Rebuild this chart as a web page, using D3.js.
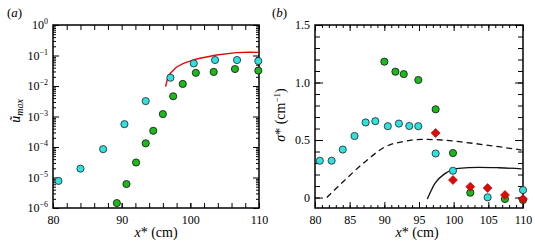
<!DOCTYPE html>
<html>
<head>
<meta charset="utf-8">
<script src="https://cdn.jsdelivr.net/npm/d3@7"></script>
<style>
  body { margin: 0; background: #fff; }
  svg, svg text { font-family: "Liberation Serif", "Times New Roman", Times, serif; }
  .domain { display: none; }
  .tick line { stroke: #000; stroke-width: 1; }
  .tick text { font-size: 12px; fill: #000; }
</style>
</head>
<body>
<div id="chart"></div>
<script>
// panel (a): u_max vs x*
const cyanXA = [80.8, 84.0, 87.3, 90.4, 93.5, 97.1, 100.5, 103.6, 106.8, 109.9];
const cyanYA = [7.7e-6, 1.95e-5, 8.5e-5, 5.6e-4, 3.2e-3, 1.87e-2, 5.5e-2, 7.1e-2, 7.1e-2, 6.6e-2];
const greenXA = [89.3, 90.7, 92.1, 93.5, 94.6, 96.0, 97.5, 98.9, 100.8, 103.4, 106.5, 109.9];
const greenYA = [1.45e-6, 6.1e-6, 3.1e-5, 1.32e-4, 3.4e-4, 1.2e-3, 4.6e-3, 1.17e-2, 2.7e-2, 2.9e-2, 3.6e-2, 3.2e-2];
const redLineXA = [96.4, 96.75, 97.1, 98.0, 99.0, 100.9, 103.8, 106.7, 108.5, 110];
const redLineYA = [0.0095, 0.021, 0.026, 0.042, 0.055, 0.077, 0.104, 0.124, 0.128, 0.127];
const xTicksA = [80, 90, 100, 110];
const yDecadesA = [-6, -5, -4, -3, -2, -1, 0];

// panel (b): sigma* vs x*
const cyanXB = [80.7, 82.4, 84.0, 85.7, 87.3, 88.7, 90.5, 92.1, 93.6, 94.9, 97.4, 99.9, 104.9, 110];
const cyanYB = [0.32, 0.32, 0.417, 0.535, 0.653, 0.664, 0.62, 0.643, 0.622, 0.62, 0.383, 0.233, 0.002, 0.065];
const greenXB = [90.0, 91.6, 92.8, 94.9, 97.4, 99.9, 102.4, 107.4, 110];
const greenYB = [1.181, 1.094, 1.073, 1.022, 0.767, 0.387, 0.042, -0.013, -0.022];
const redXB = [97.4, 99.9, 102.4, 104.9, 107.4, 110];
const redYB = [0.561, 0.152, 0.094, 0.083, 0.022, -0.013];
const dashXB = [81.7, 84.1, 87.2, 90.1, 93.0, 95.4, 98.3, 101.6, 105.5, 109.8];
const dashYB = [0.0, 0.14, 0.31, 0.44, 0.49, 0.506, 0.5, 0.48, 0.45, 0.413];
const solidXB = [96.2, 97.3, 98.8, 100.7, 103.6, 106.5, 109.8];
const solidYB = [-0.013, 0.123, 0.21, 0.254, 0.263, 0.259, 0.25];
const xTicksB = [80, 85, 90, 95, 100, 105, 110];
const yTicksB = [0, 0.5, 1.0, 1.5];

const cyan = '#2ee0e0', green = '#1cb81c', red = '#dd0a0a';
const serif = '"Liberation Serif", "Times New Roman", Times, serif';

const svg = d3.select('#chart').append('svg').attr('width', 535).attr('height', 250);

const plotTop = 25, plotBottom = 208;

// ---------- panel (a) ----------
const xA = d3.scaleLinear().domain([80, 110]).range([53, 259]);
const yA = d3.scaleLog().domain([1e-6, 1]).range([plotBottom, plotTop]);

const gA = svg.append('g');
const minorA = [];
yDecadesA.slice(0, -1).forEach(e => { for (let k = 2; k <= 9; k++) minorA.push(k * Math.pow(10, e)); });
const majorA = yDecadesA.map(e => Math.pow(10, e));
const xMinorA = d3.range(80, 110.01, 2);

gA.append('g').attr('transform', `translate(0,${plotBottom})`)
  .call(d3.axisBottom(xA).tickValues(xMinorA).tickSize(-5).tickFormat(''));
gA.append('g').attr('transform', `translate(0,${plotTop})`)
  .call(d3.axisTop(xA).tickValues(xMinorA).tickSize(-5).tickFormat(''));
gA.append('g').attr('transform', `translate(0,${plotBottom})`)
  .call(d3.axisBottom(xA).tickValues(xTicksA).tickSize(-5).tickPadding(7).tickFormat(d3.format('d')));

[[53, d3.axisLeft], [259, d3.axisRight]].forEach(([x, ax]) => {
  gA.append('g').attr('transform', `translate(${x},0)`)
    .call(ax(yA).tickValues(minorA).tickSize(-3).tickFormat(''));
  gA.append('g').attr('transform', `translate(${x},0)`)
    .call(ax(yA).tickValues(majorA).tickSize(-6).tickFormat(''));
});

// log tick labels with superscripts
gA.selectAll('text.ylab').data(yDecadesA).join('text')
  .attr('class', 'ylab')
  .attr('x', 48).attr('y', d => yA(Math.pow(10, d)) + 4)
  .attr('text-anchor', 'end').attr('font-size', 12)
  .each(function (d) {
    const t = d3.select(this);
    t.append('tspan').text('10');
    t.append('tspan').attr('dy', -5).attr('font-size', 8).text(d === 0 ? '0' : '\u2212' + (-d));
  });

gA.append('rect').attr('x', 53).attr('y', plotTop).attr('width', 206).attr('height', plotBottom - plotTop)
  .attr('fill', 'none').attr('stroke', '#000').attr('stroke-width', 1.5);

gA.append('path')
  .datum(redLineXA.map((x, i) => [x, redLineYA[i]]))
  .attr('d', d3.line().x(d => xA(d[0])).y(d => yA(d[1])))
  .attr('fill', 'none').attr('stroke', red).attr('stroke-width', 1.4);

gA.selectAll('circle.cy').data(cyanXA.map((x, i) => [x, cyanYA[i]])).join('circle')
  .attr('class', 'cy').attr('cx', d => xA(d[0])).attr('cy', d => yA(d[1])).attr('r', 3.6)
  .attr('fill', cyan).attr('stroke', '#222').attr('stroke-width', 0.8);
gA.selectAll('circle.gr').data(greenXA.map((x, i) => [x, greenYA[i]])).join('circle')
  .attr('class', 'gr').attr('cx', d => xA(d[0])).attr('cy', d => yA(d[1])).attr('r', 3.6)
  .attr('fill', green).attr('stroke', '#111').attr('stroke-width', 0.8);

svg.append('text').attr('x', 7).attr('y', 17).attr('font-size', 13)
  .html('(<tspan font-style="italic">a</tspan>)');

const ylabA = svg.append('text').attr('transform', 'translate(20,111) rotate(-90)')
  .attr('text-anchor', 'middle').attr('font-size', 14).attr('font-style', 'italic');
ylabA.append('tspan').text('\u0169');
ylabA.append('tspan').attr('dy', 3).attr('font-size', 10).text('max');

const xlabA = svg.append('text').attr('x', 156).attr('y', 237).attr('text-anchor', 'middle').attr('font-size', 14);
xlabA.append('tspan').attr('font-style', 'italic').text('x');
xlabA.append('tspan').text('* (cm)');

// ---------- panel (b) ----------
const xB = d3.scaleLinear().domain([80, 110]).range([315, 523]);
const yB = d3.scaleLinear().domain([-0.091, 1.5]).range([plotBottom, plotTop]);
const gB = svg.append('g');
const xMinorB = d3.range(80, 110.01, 1);
const yMinorB = d3.range(0, 1.501, 0.1);

gB.append('g').attr('transform', `translate(0,${plotBottom})`)
  .call(d3.axisBottom(xB).tickValues(xMinorB).tickSize(-3).tickFormat(''));
gB.append('g').attr('transform', `translate(0,${plotTop})`)
  .call(d3.axisTop(xB).tickValues(xMinorB).tickSize(-3).tickFormat(''));
gB.append('g').attr('transform', `translate(0,${plotBottom})`)
  .call(d3.axisBottom(xB).tickValues(xTicksB).tickSize(-6).tickPadding(7).tickFormat(d3.format('d')));
gB.append('g').attr('transform', `translate(0,${plotTop})`)
  .call(d3.axisTop(xB).tickValues(xTicksB).tickSize(-6).tickFormat(''));

gB.append('g').attr('transform', 'translate(315,0)')
  .call(d3.axisLeft(yB).tickValues(yMinorB).tickSize(-5).tickFormat(''));
gB.append('g').attr('transform', 'translate(523,0)')
  .call(d3.axisRight(yB).tickValues(yMinorB).tickSize(-5).tickFormat(''));
gB.append('g').attr('transform', 'translate(315,0)')
  .call(d3.axisLeft(yB).tickValues(yTicksB).tickSize(-8).tickPadding(5).tickFormat(d => d === 0 ? '0' : d3.format('.1f')(d)));
gB.append('g').attr('transform', 'translate(523,0)')
  .call(d3.axisRight(yB).tickValues(yTicksB).tickSize(-8).tickFormat(''));

gB.append('rect').attr('x', 315).attr('y', plotTop).attr('width', 208).attr('height', plotBottom - plotTop)
  .attr('fill', 'none').attr('stroke', '#000').attr('stroke-width', 1.5);

const lineB = d3.line().x(d => xB(d[0])).y(d => yB(d[1])).curve(d3.curveMonotoneX);
gB.append('path')
  .datum(dashXB.map((x, i) => [x, dashYB[i]]))
  .attr('d', lineB).attr('fill', 'none').attr('stroke', '#111').attr('stroke-width', 1.3)
  .attr('stroke-dasharray', '6,4');
gB.append('path')
  .datum(solidXB.map((x, i) => [x, solidYB[i]]))
  .attr('d', lineB).attr('fill', 'none').attr('stroke', '#111').attr('stroke-width', 1.3);

gB.selectAll('circle.cy').data(cyanXB.map((x, i) => [x, cyanYB[i]])).join('circle')
  .attr('class', 'cy').attr('cx', d => xB(d[0])).attr('cy', d => yB(d[1])).attr('r', 3.6)
  .attr('fill', cyan).attr('stroke', '#222').attr('stroke-width', 0.8);
gB.selectAll('circle.gr').data(greenXB.map((x, i) => [x, greenYB[i]])).join('circle')
  .attr('class', 'gr').attr('cx', d => xB(d[0])).attr('cy', d => yB(d[1])).attr('r', 3.6)
  .attr('fill', green).attr('stroke', '#111').attr('stroke-width', 0.8);
gB.selectAll('path.rd').data(redXB.map((x, i) => [x, redYB[i]])).join('path')
  .attr('class', 'rd')
  .attr('transform', d => `translate(${xB(d[0])},${yB(d[1])}) rotate(45)`)
  .attr('d', d3.symbol(d3.symbolSquare, 40))
  .attr('fill', red).attr('stroke', '#a00').attr('stroke-width', 0.6);

svg.append('text').attr('x', 272).attr('y', 17).attr('font-size', 13)
  .html('(<tspan font-style="italic">b</tspan>)');

const ylabB = svg.append('text').attr('transform', 'translate(285,115) rotate(-90)')
  .attr('text-anchor', 'middle').attr('font-size', 14);
ylabB.append('tspan').attr('font-style', 'italic').text('\u03c3');
ylabB.append('tspan').text('* (cm');
ylabB.append('tspan').attr('dy', -5).attr('font-size', 9).text('\u22121');
ylabB.append('tspan').attr('dy', 5).text(')');

const xlabB = svg.append('text').attr('x', 417).attr('y', 237).attr('text-anchor', 'middle').attr('font-size', 14);
xlabB.append('tspan').attr('font-style', 'italic').text('x');
xlabB.append('tspan').text('* (cm)');

svg.selectAll('text').attr('font-family', serif);
</script>
</body>
</html>
